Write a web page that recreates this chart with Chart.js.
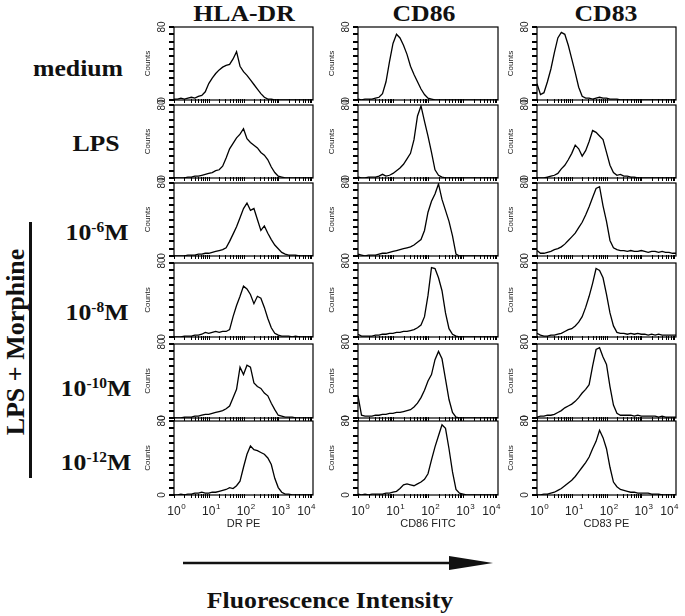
<!DOCTYPE html>
<html lang="en">
<head>
<meta charset="utf-8">
<title>Histogramas</title>
<script src="https://cdn.jsdelivr.net/npm/chart.js@4.4.1/dist/chart.umd.min.js"></script>
<style>
    html, body { margin: 0; padding: 0; background: #fff; }
    #figura { position: relative; width: 685px; height: 616px; overflow: hidden; background: #fff; }
    .titulo { position: absolute; font-family: "Liberation Serif", "Times New Roman", serif; font-weight: bold; color: #111; line-height: 1; white-space: nowrap; }
    .titulo sup { font-size: 60%; vertical-align: 0.55em; line-height: 0; }
    canvas { position: absolute; }
</style>
</head>
<body>
<div id="figura"></div>
<script>
// histogramas.js - citometria: 6 condiciones x 3 marcadores

// posiciones en decadas (10^0 .. 10^4)
var decadas = [0, 0.1, 0.2, 0.3, 0.4, 0.5, 0.6, 0.7, 0.8, 0.9,
    1, 1.1, 1.2, 1.3, 1.4, 1.5, 1.6, 1.7, 1.8, 1.9,
    2, 2.1, 2.2, 2.3, 2.4, 2.5, 2.6, 2.7, 2.8, 2.9,
    3, 3.1, 3.2, 3.3, 3.4, 3.5, 3.6, 3.7, 3.8, 3.9, 4];

var columnas = ['HLA-DR', 'CD86', 'CD83'];
var filas = ['medium', 'LPS', '10<sup>-6</sup>M', '10<sup>-8</sup>M', '10<sup>-10</sup>M', '10<sup>-12</sup>M'];
var titulosX = ['DR PE', 'CD86 FITC', 'CD83 PE'];
var tituloY = 'Counts';
var ticksX = [0, 1, 2, 3, 4];
var ticksY = [0, 80];

// HLA-DR
var hlaMedium = [1, 1, 2, 1, 2, 3, 2, 4, 5, 9, 18, 24, 29, 33, 36, 38, 39, 45, 53, 37, 31, 27, 22, 17, 12, 7, 3, 1, 1, 0, 0, 0, 0, 0, 0, 0, 0, 0, 0, 0, 0];
var hlaLps = [0, 0, 0, 0, 1, 1, 2, 2, 3, 4, 5, 6, 8, 9, 13, 22, 32, 38, 44, 48, 54, 43, 39, 36, 33, 28, 25, 20, 12, 6, 2, 1, 0, 0, 0, 0, 0, 0, 0, 0, 0];
var hla6 = [0, 0, 0, 0, 1, 1, 1, 2, 2, 3, 3, 4, 5, 6, 7, 9, 16, 24, 32, 42, 52, 58, 50, 52, 40, 28, 33, 25, 18, 12, 8, 4, 2, 1, 1, 1, 0, 0, 0, 0, 0];
var hla8 = [0, 0, 0, 1, 1, 1, 2, 2, 3, 5, 4, 5, 6, 5, 6, 6, 8, 22, 34, 44, 55, 52, 46, 36, 44, 42, 32, 20, 10, 4, 2, 1, 1, 1, 0, 1, 0, 0, 0, 0, 0];
var hla10 = [0, 0, 0, 1, 1, 1, 2, 2, 3, 4, 4, 5, 6, 7, 8, 10, 13, 22, 31, 55, 47, 57, 55, 38, 34, 32, 27, 24, 16, 9, 3, 2, 1, 1, 1, 0, 0, 0, 0, 0, 0];
var hla12 = [0, 0, 1, 0, 1, 1, 2, 2, 3, 2, 2, 3, 3, 4, 5, 6, 8, 7, 10, 15, 30, 44, 53, 49, 48, 46, 44, 40, 33, 18, 8, 3, 1, 1, 0, 0, 0, 0, 0, 0, 0];

// CD86
var cd86Medium = [1, 0, 1, 1, 1, 2, 3, 7, 20, 42, 62, 72, 68, 60, 50, 37, 28, 20, 12, 6, 2, 1, 0, 0, 0, 0, 0, 0, 0, 0, 0, 0, 0, 0, 0, 0, 0, 0, 0, 0, 0];
var cd86Lps = [1, 0, 0, 1, 1, 1, 2, 4, 2, 3, 5, 8, 11, 15, 21, 27, 42, 68, 79, 62, 46, 28, 9, 3, 1, 0, 0, 0, 0, 0, 0, 0, 0, 0, 0, 0, 0, 0, 0, 0, 0];
var cd86_6 = [2, 1, 0, 1, 1, 1, 2, 3, 3, 4, 5, 6, 7, 8, 9, 10, 12, 15, 18, 28, 48, 60, 68, 79, 62, 50, 38, 22, 2, 0, 0, 0, 0, 0, 0, 0, 0, 0, 0, 0, 0];
var cd86_8 = [3, 1, 1, 1, 1, 2, 2, 3, 3, 4, 4, 5, 5, 6, 6, 7, 8, 10, 13, 22, 45, 75, 74, 64, 50, 26, 9, 3, 1, 0, 0, 0, 0, 0, 0, 0, 0, 0, 0, 0, 0];
var cd86_10 = [24, 3, 2, 2, 2, 3, 3, 4, 4, 5, 5, 6, 6, 7, 8, 9, 12, 16, 22, 30, 40, 47, 63, 72, 64, 42, 20, 6, 1, 0, 0, 0, 0, 0, 0, 0, 0, 0, 0, 0, 0];
var cd86_12 = [1, 0, 1, 0, 1, 1, 1, 1, 2, 2, 3, 4, 7, 11, 12, 11, 10, 12, 14, 17, 23, 38, 52, 64, 76, 72, 50, 25, 6, 2, 1, 0, 0, 0, 0, 0, 0, 0, 0, 0, 0];

// CD83
var cd83Medium = [18, 6, 8, 20, 34, 52, 68, 74, 72, 60, 45, 30, 14, 4, 2, 2, 1, 2, 3, 2, 2, 1, 1, 1, 0, 0, 0, 0, 0, 0, 0, 0, 0, 0, 0, 0, 0, 0, 0, 0, 0];
var cd83Lps = [0, 0, 0, 1, 2, 3, 5, 10, 14, 20, 27, 36, 32, 24, 30, 40, 52, 50, 46, 42, 28, 14, 6, 3, 4, 2, 2, 1, 1, 0, 0, 0, 0, 0, 0, 0, 0, 0, 0, 0, 0];
var cd83_6 = [6, 3, 3, 4, 5, 7, 8, 10, 13, 17, 21, 25, 31, 37, 45, 54, 64, 74, 76, 55, 38, 17, 9, 7, 6, 6, 5, 6, 5, 5, 6, 5, 4, 5, 5, 4, 5, 4, 4, 3, 3];
var cd83_8 = [4, 2, 1, 1, 2, 2, 3, 4, 6, 8, 9, 12, 16, 22, 32, 44, 58, 74, 72, 64, 46, 26, 12, 5, 4, 4, 3, 4, 3, 4, 3, 3, 2, 3, 2, 3, 2, 2, 2, 2, 2];
var cd83_10 = [1, 2, 2, 3, 3, 4, 6, 8, 11, 13, 15, 18, 22, 27, 31, 36, 56, 74, 76, 66, 58, 34, 14, 5, 3, 3, 3, 3, 2, 3, 2, 2, 2, 2, 2, 1, 2, 1, 1, 1, 1];
var cd83_12 = [0, 0, 1, 1, 2, 3, 5, 7, 10, 13, 16, 20, 25, 30, 35, 41, 50, 58, 70, 62, 50, 30, 14, 9, 6, 5, 4, 3, 3, 2, 2, 2, 2, 1, 1, 1, 0, 0, 0, 0, 0];

var series = [
    [hlaMedium, hlaLps, hla6, hla8, hla10, hla12],
    [cd86Medium, cd86Lps, cd86_6, cd86_8, cd86_10, cd86_12],
    [cd83Medium, cd83Lps, cd83_6, cd83_8, cd83_10, cd83_12]
];

// geometria de los paneles (px)
var colIzq = [174, 358, 537];
var anchoCol = [139, 140, 139];
var filaSup = [27, 105, 183, 263, 344, 421];
var altoFila = [73, 73, 73, 74, 74, 74];

var fuenteSans = '"Liberation Sans", Arial, sans-serif';
var figura = document.getElementById('figura');

function textoVertical(ctx, texto, x, y) {
    ctx.save();
    ctx.translate(x, y);
    ctx.rotate(-Math.PI / 2);
    ctx.fillText(texto, 0, 0);
    ctx.restore();
}

function potenciaDiez(ctx, x, y, exp, alFinal) {
    ctx.font = '12px ' + fuenteSans;
    var w10 = ctx.measureText('10').width;
    ctx.font = '8px ' + fuenteSans;
    var wExp = ctx.measureText(String(exp)).width;
    var x0 = x - w10 / 2;
    if (alFinal) x0 = x + 2 - w10 - wExp;
    ctx.textAlign = 'left';
    ctx.textBaseline = 'alphabetic';
    ctx.font = '12px ' + fuenteSans;
    ctx.fillText('10', x0, y);
    ctx.font = '8px ' + fuenteSans;
    ctx.fillText(String(exp), x0 + w10 + 0.5, y - 6);
}

// marco, marcas de los ejes, etiquetas del eje y, y eje x en la ultima fila
var marcoPlugin = {
    id: 'marco',
    afterDraw: function(chart, args, opciones) {
        var ctx = chart.ctx;
        var area = chart.chartArea;
        var ejeY = chart.scales.y;
        var ejeX = chart.scales.x;
        ctx.save();
        ctx.strokeStyle = '#000';
        ctx.fillStyle = '#000';
        ctx.lineWidth = 1.2;
        ctx.strokeRect(area.left, area.top, area.right - area.left, area.bottom - area.top);

        // marcas del eje y (hacia fuera), cada 8 cuentas
        for (var v = 0; v <= 80; v += 8) {
            var py = Math.round(ejeY.getPixelForValue(v));
            ctx.fillRect(area.left - 5, py - 1, 5, 2);
        }

        // marcas menores del eje x (hacia abajo)
        for (var p = 1; p < 10000; p *= 10) {
            for (var k = 1; k < 10; k++) {
                var pxm = Math.round(ejeX.getPixelForValue(k * p));
                ctx.fillRect(pxm, area.bottom - 1, 1, 4);
            }
        }

        ctx.fillStyle = '#222';
        ctx.textAlign = 'center';
        ctx.textBaseline = 'middle';
        ctx.font = '10px ' + fuenteSans;
        for (var i = 0; i < ticksY.length; i++) {
            textoVertical(ctx, String(ticksY[i]), area.left - 12, ejeY.getPixelForValue(ticksY[i]));
        }
        ctx.font = '8px ' + fuenteSans;
        textoVertical(ctx, tituloY, area.left - 26, (area.top + area.bottom) / 2);

        if (opciones && opciones.titulo) {
            for (var j = 0; j < ticksX.length; j++) {
                var px = ejeX.getPixelForValue(Math.pow(10, ticksX[j]));
                potenciaDiez(ctx, px, area.bottom + 20, ticksX[j], j === ticksX.length - 1);
            }
            ctx.textAlign = 'center';
            ctx.textBaseline = 'middle';
            ctx.font = '11px ' + fuenteSans;
            ctx.fillText(opciones.titulo, (area.left + area.right) / 2, area.bottom + 29);
        }
        ctx.restore();
    }
};

function crearPanel(c, f) {
    var serie = series[c][f];
    var abajo = (f === filaSup.length - 1);
    var w = anchoCol[c] + 44;
    var h = altoFila[f] + 20 + (abajo ? 40 : 0);

    var lienzo = document.createElement('canvas');
    lienzo.width = w;
    lienzo.height = h;
    lienzo.style.left = (colIzq[c] - 34) + 'px';
    lienzo.style.top = (filaSup[f] - 10) + 'px';
    lienzo.style.width = w + 'px';
    lienzo.style.height = h + 'px';
    figura.appendChild(lienzo);

    var puntos = [];
    for (var i = 0; i < decadas.length; i++) {
        puntos.push({ x: Math.pow(10, decadas[i]), y: serie[i] });
    }

    new Chart(lienzo, {
        type: 'line',
        data: {
            datasets: [{
                data: puntos,
                borderColor: '#000',
                borderWidth: 1.3,
                pointRadius: 0,
                tension: 0,
                fill: false
            }]
        },
        options: {
            responsive: false,
            animation: false,
            events: [],
            layout: {
                autoPadding: false,
                padding: { left: 28, top: 10, right: 10, bottom: abajo ? 46 : 6 }
            },
            plugins: {
                legend: { display: false },
                tooltip: { enabled: false },
                marco: { titulo: abajo ? titulosX[c] : '' }
            },
            scales: {
                x: {
                    type: 'logarithmic',
                    min: 1,
                    max: 10000,
                    afterFit: function(eje) { eje.height = 4; },
                    ticks: { display: false },
                    grid: { display: false },
                    border: { display: false }
                },
                y: {
                    min: 0,
                    max: 80,
                    afterFit: function(eje) { eje.width = 6; },
                    ticks: { display: false },
                    grid: { display: false },
                    border: { display: false }
                }
            }
        },
        plugins: [marcoPlugin]
    });
}

function ponerTexto(html, x, y, tam, extra) {
    var d = document.createElement('div');
    d.className = 'titulo';
    d.innerHTML = html;
    d.style.left = x + 'px';
    d.style.top = y + 'px';
    d.style.fontSize = tam + 'px';
    d.style.transform = 'translate(-50%, -50%) ' + (extra || '');
    figura.appendChild(d);
}

// titulos
var posTitulosX = [244, 424, 606];
for (var c = 0; c < columnas.length; c++) {
    ponerTexto(columnas[c], posTitulosX[c], 13, 23, 'scaleX(1.12)');
}
var posFilasX = [78, 96, 97, 97, 96, 96];
var posFilasY = [68, 143, 232, 312, 388, 462];
for (var f = 0; f < filas.length; f++) {
    ponerTexto(filas[f], posFilasX[f], posFilasY[f], 23, 'scaleX(1.12)');
}
ponerTexto('LPS + Morphine', 16, 342, 26, 'rotate(-90deg)');
ponerTexto('Fluorescence Intensity', 330, 600, 23, 'scaleX(1.12)');

// barra vertical y flecha
var barra = document.createElement('div');
barra.style.cssText = 'position:absolute; left:29px; top:222px; width:3px; height:256px; background:#111;';
figura.appendChild(barra);

var flecha = document.createElementNS('http://www.w3.org/2000/svg', 'svg');
flecha.setAttribute('width', '685');
flecha.setAttribute('height', '616');
flecha.style.cssText = 'position:absolute; left:0; top:0;';
flecha.innerHTML = '<line x1="183" y1="563" x2="455" y2="563" stroke="#111" stroke-width="2.5"/>' +
    '<polygon points="449,556 493,563 449,570" fill="#111"/>';
figura.appendChild(flecha);

for (var cc = 0; cc < columnas.length; cc++) {
    for (var ff = 0; ff < filas.length; ff++) {
        crearPanel(cc, ff);
    }
}
</script>
</body>
</html>
